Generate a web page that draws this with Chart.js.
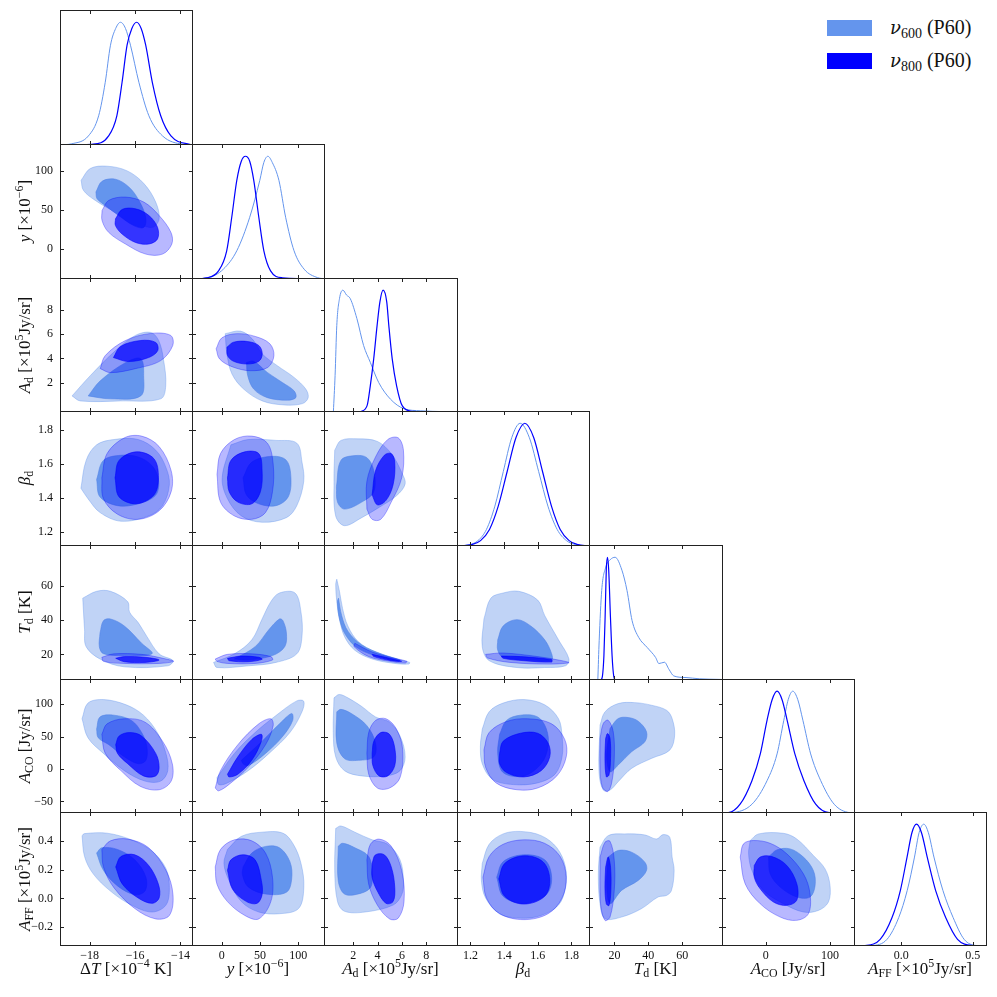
<!DOCTYPE html>
<html>
<head>
<meta charset="utf-8">
<script src="https://cdn.jsdelivr.net/npm/chart.js@4.4.1/dist/chart.umd.min.js"></script>
<style>
  body { margin: 0; background: #fff; width: 997px; height: 997px; position: relative; overflow: hidden;
         font-family: 'Liberation Serif', 'DejaVu Serif', serif; color: #111; }
  canvas { position: absolute; }
  .xt { position: absolute; top: 959px; transform: translateX(-50%); font-size: 17px; line-height: 20px; white-space: nowrap; }
  .yt { position: absolute; left: 25px; transform: translate(-50%, -50%) rotate(-90deg); font-size: 17px; line-height: 20px; white-space: nowrap; }
  sub { font-size: 70%; vertical-align: -0.25em; line-height: 0; }
  sup { font-size: 70%; vertical-align: 0.55em; line-height: 0; }
  .lg { position: absolute; left: 827px; width: 45px; height: 16px; }
  .lg span { position: absolute; left: 63px; top: -6px; font-size: 20px; line-height: 26px; white-space: nowrap; }
  .nu { font-family: 'DejaVu Serif', serif; font-size: 18px; }
</style>
</head>
<body>
<script>
// ---- axes: parameter limits and ticks (order: dT, y, Ad, beta, Td, ACO, AFF) ----
const axisMin = [-19.3, -39, -0.4, 1.12, 5, -68, -0.33];
const axisMax = [-13.45, 135, 10.6, 1.91, 84, 139, 0.60];
const xTicks = [[-18, -16, -14], [0, 50, 100], [2, 4, 6, 8], [1.2, 1.4, 1.6, 1.8], [20, 40, 60], [0, 100], [0.0, 0.5]];
const yTicks = [[], [0, 50, 100], [2, 4, 6, 8], [1.2, 1.4, 1.6, 1.8], [20, 40, 60], [-50, 0, 50, 100], [-0.2, 0.0, 0.2, 0.4]];
const tickDecimals = [0, 0, 0, 1, 0, 0, 1];

const xTitles = [
  'Δ<i>T</i> [×10<sup>−4</sup> K]', '<i>y</i> [×10<sup>−6</sup>]', '<i>A</i><sub>d</sub> [×10<sup>5</sup>Jy/sr]',
  '<i>β</i><sub>d</sub>', '<i>T</i><sub>d</sub> [K]', '<i>A</i><sub>CO</sub> [Jy/sr]', '<i>A</i><sub>FF</sub> [×10<sup>5</sup>Jy/sr]'
];
const seriesNames = ['<i class="nu">ν</i><sub>600</sub> (P60)', '<i class="nu">ν</i><sub>800</sub> (P60)'];

// ---- 1D marginals, flat [x, p, x, p, ...] ----
const m600_dT = [-19.3,0.001, -18.78,0.01, -18.05,0.074, -17.6,0.238, -17.31,0.511, -17.08,0.813, -16.85,0.95, -16.64,1.0, -16.42,0.95, -16.2,0.813, -15.83,0.511, -15.39,0.238, -14.79,0.074, -13.9,0.006, -13.45,0.001];
const m800_dT = [-19.3,0, -17.9,0.006, -17.16,0.074, -16.8,0.238, -16.57,0.511, -16.35,0.813, -16.14,0.95, -15.93,1.0, -15.73,0.95, -15.53,0.813, -15.24,0.511, -14.87,0.238, -14.42,0.074, -13.6,0.006, -13.45,0.003];
const m600_y = [-39,0, -17.7,0.011, 2.0,0.08, 19.6,0.23, 36.5,0.503, 49.7,0.804, 55,0.95, 60.3,1.0, 66,0.95, 74.7,0.804, 83.5,0.503, 94.5,0.23, 107.7,0.08, 125.3,0.011, 135,0.002];
const m800_y = [-39,0.001, -19.8,0.01, -4.3,0.066, 6.4,0.23, 13.0,0.503, 19.6,0.804, 25.5,0.96, 30.9,1.0, 36.5,0.96, 41.8,0.804, 48.4,0.503, 55,0.23, 63.8,0.066, 79.3,0.01, 135,0];
const m600_Ad = [0.37,0, 0.51,0.298, 0.65,0.711, 0.87,0.93, 1.15,1.0, 1.45,0.96, 1.75,0.932, 2.3,0.767, 2.85,0.546, 3.4,0.408, 4.09,0.242, 5.06,0.105, 6.16,0.027, 7.54,0.01, 9.44,0.003, 10.6,0.001];
const m800_Ad = [2.57,0, 3.13,0.05, 3.4,0.215, 3.68,0.436, 3.96,0.711, 4.19,0.904, 4.45,1.0, 4.75,0.904, 4.92,0.711, 5.2,0.436, 5.56,0.215, 6.03,0.05, 6.86,0.005, 8,0];
const m600_beta = [1.12,0.001, 1.145,0.002, 1.195,0.011, 1.245,0.044, 1.295,0.135, 1.345,0.325, 1.395,0.607, 1.445,0.882, 1.495,1.0, 1.55,0.882, 1.605,0.607, 1.66,0.325, 1.715,0.135, 1.77,0.044, 1.825,0.011, 1.88,0.002, 1.91,0.001];
const m800_beta = [1.12,0.001, 1.155,0.002, 1.208,0.011, 1.26,0.044, 1.313,0.135, 1.365,0.325, 1.418,0.607, 1.47,0.882, 1.523,1.0, 1.576,0.882, 1.628,0.607, 1.681,0.325, 1.733,0.135, 1.786,0.044, 1.838,0.011, 1.89,0.002, 1.91,0.001];
const m600_Td = [10.2,0, 11,0.32, 12.5,0.73, 14.9,0.92, 17.5,0.98, 20.4,1.0, 24.4,0.895, 27.4,0.73, 30.4,0.484, 34.3,0.347, 39.3,0.265, 44.3,0.183, 46.2,0.134, 49.5,0.145, 52.1,0.088, 55,0.033, 62.2,0.02, 70,0.01, 81.6,0.005, 84,0.004];
const m800_Td = [12.0,0, 12.9,0.03, 13.8,0.2, 14.5,0.511, 15.2,0.9, 15.9,1.0, 16.6,0.9, 17.65,0.511, 18.6,0.2, 19.6,0.03, 20.6,0];
const m600_ACO = [-68,0, -52.8,0.003, -21.4,0.072, 2.1,0.265, 17.7,0.485, 28.2,0.761, 35,0.93, 42.2,1.0, 50,0.93, 57.9,0.761, 70,0.485, 85.7,0.265, 106.6,0.072, 130.1,0.003, 139,0];
const m800_ACO = [-68,0.001, -58.1,0.003, -39.8,0.072, -21.4,0.265, -8.4,0.485, 2.1,0.761, 10,0.93, 17.7,1.0, 25.5,0.93, 33.4,0.761, 45.4,0.485, 59.5,0.265, 77.8,0.072, 98.7,0.003, 139,0];
const m600_AFF = [-0.33,0, -0.204,0.004, -0.099,0.055, -0.017,0.234, 0.042,0.455, 0.093,0.73, 0.125,0.93, 0.158,1.0, 0.19,0.93, 0.229,0.73, 0.292,0.455, 0.363,0.234, 0.44,0.055, 0.523,0.004, 0.6,0];
const m800_AFF = [-0.33,0, -0.253,0.004, -0.147,0.055, -0.064,0.234, -0.006,0.455, 0.041,0.73, 0.075,0.93, 0.107,1.0, 0.142,0.93, 0.182,0.73, 0.241,0.455, 0.311,0.234, 0.394,0.055, 0.5,0.004, 0.6,0];

// ---- 2D contours, each panel: [600 outer, 600 inner, 800 outer, 800 inner], flat [x, y, ...] ----
const dT_y = [
  [-18.37,88.3, -17.97,103.4, -17.23,106.4, -16.34,100.3, -15.61,84.0, -15.09,60.1, -14.94,38.5, -15.24,27.6, -15.98,34.1, -16.86,47.1, -17.75,62.3, -18.27,75.3],
  [-17.72,73.1, -17.45,87.0, -16.86,89.6, -16.27,79.5, -15.83,62.3, -15.53,40.6, -15.61,27.6, -16.05,29.8, -16.72,42.8, -17.31,55.8, -17.67,64.5],
  [-17.45,49.3, -17.16,62.3, -16.42,66.6, -15.61,60.1, -14.94,42.8, -14.42,21.1, -14.38,6.1, -14.79,-6.9, -15.53,-6.9, -16.42,6.1, -17.16,21.1, -17.45,36.3],
  [-16.86,38.5, -16.57,50.6, -15.98,51.5, -15.39,42.8, -15.01,27.6, -15.01,12.6, -15.39,6.1, -15.98,8.1, -16.57,19.0, -16.86,29.8]
];
const dT_Ad = [
  [-18.77,0.92, -17.97,2.58, -16.86,4.64, -15.98,5.89, -15.31,6.13, -14.96,5.47, -14.74,3.82, -14.65,1.75, -14.87,0.68, -16.64,0.51, -18.41,0.51],
  [-18.06,0.92, -17.53,2.16, -16.42,3.65, -15.75,3.98, -15.62,2.58, -15.75,0.92, -17.08,0.68],
  [-17.53,3.16, -17.31,4.23, -16.42,5.47, -15.31,6.05, -14.43,5.89, -14.34,5.06, -14.87,3.82, -15.98,3.16, -17.08,2.83],
  [-16.95,4.07, -16.64,4.98, -15.75,5.47, -15.09,5.31, -15.0,4.64, -15.4,4.07, -16.29,3.74]
];
const y_Ad = [
  [4.5,6.03, 24.3,6.24, 39.7,5.61, 52.9,4.37, 72.6,3.40, 94.5,2.44, 109.9,1.48, 113.0,0.78, 105.6,0.29, 81.3,0.18, 52.9,0.51, 28.6,1.48, 13.3,2.72, 6.7,4.37],
  [32.2,3.68, 41.8,3.76, 59.5,2.85, 79.2,2.02, 94.5,1.34, 96.8,0.78, 85.8,0.57, 59.5,0.78, 41.8,1.48, 33.9,2.58],
  [-7.4,4.79, 0.1,5.69, 19.9,6.03, 44.0,5.80, 62.9,5.20, 68.2,4.23, 60.2,3.26, 37.4,2.99, 13.3,3.32, -3.0,3.96],
  [6.7,4.92, 15.4,5.33, 33.1,5.39, 48.4,5.06, 52.9,4.37, 48.4,3.76, 33.1,3.54, 15.4,3.76, 7.5,4.23]
];
const dT_beta = [
  [-18.38,1.458, -18.15,1.621, -17.69,1.712, -16.93,1.743, -15.86,1.743, -15.09,1.681, -14.64,1.580, -14.49,1.478, -14.79,1.356, -15.40,1.296, -16.62,1.265, -17.54,1.316, -18.07,1.397],
  [-17.69,1.509, -17.39,1.621, -16.62,1.651, -15.86,1.641, -15.25,1.590, -14.97,1.509, -15.09,1.418, -15.86,1.367, -16.77,1.356, -17.54,1.407],
  [-17.46,1.519, -17.23,1.661, -16.47,1.753, -15.71,1.763, -14.94,1.702, -14.41,1.560, -14.41,1.438, -14.94,1.326, -15.86,1.276, -16.77,1.306, -17.39,1.397],
  [-16.88,1.519, -16.70,1.621, -15.94,1.671, -15.17,1.631, -14.97,1.519, -15.17,1.418, -15.94,1.367, -16.70,1.407]
];
const y_beta = [
  [11.9,1.712, 34.5,1.743, 70.9,1.738, 98.1,1.722, 104.9,1.611, 107.2,1.499, 98.1,1.356, 84.5,1.286, 52.7,1.259, 25.6,1.296, 7.4,1.397, 0.5,1.519],
  [27.8,1.519, 39.2,1.611, 66.3,1.645, 84.5,1.621, 90.4,1.519, 86.8,1.407, 70.9,1.356, 48.3,1.367, 32.3,1.418],
  [-6.3,1.539, -1.7,1.661, 16.5,1.743, 39.2,1.763, 59.6,1.722, 67.2,1.600, 66.3,1.438, 57.2,1.316, 39.2,1.276, 16.5,1.296, -1.7,1.377],
  [7.4,1.519, 11.9,1.621, 30.1,1.671, 48.3,1.661, 52.7,1.560, 50.5,1.438, 39.2,1.367, 21.0,1.377, 9.6,1.438]
];
const Ad_beta = [
  [0.48,1.681, 0.99,1.738, 2.41,1.747, 3.98,1.732, 5.12,1.661, 5.98,1.550, 6.26,1.483, 5.55,1.414, 4.12,1.346, 2.70,1.286, 1.28,1.239, 0.56,1.296, 0.42,1.499],
  [0.62,1.468, 0.99,1.621, 2.13,1.649, 3.12,1.637, 3.69,1.560, 3.69,1.438, 2.70,1.377, 1.28,1.336, 0.71,1.377],
  [3.12,1.336, 3.12,1.499, 3.83,1.641, 4.83,1.743, 5.69,1.753, 6.12,1.681, 5.98,1.519, 5.12,1.377, 4.26,1.276, 3.55,1.276],
  [3.55,1.418, 3.83,1.560, 4.55,1.651, 5.12,1.661, 5.41,1.611, 5.27,1.478, 4.69,1.387, 3.98,1.361]
];
const dT_Td = [
  [-18.30,52.9, -17.69,56.9, -17.08,56.9, -16.32,50.8, -16.24,44.7, -15.86,38.6, -15.48,30.5, -14.94,20.3, -14.33,16.3, -14.56,13.3, -16.47,12.7, -17.54,17.3, -18.15,24.5, -18.22,34.6],
  [-17.54,32.5, -17.39,39.7, -17.08,40.7, -16.47,36.6, -15.71,26.5, -15.25,20.4, -16.47,19.3, -17.39,20.4, -17.57,24.5],
  [-17.46,18.3, -16.93,20.3, -15.71,20.0, -14.64,17.3, -14.30,15.9, -14.94,14.7, -16.47,14.7, -17.39,15.9],
  [-16.85,17.7, -16.47,18.7, -15.56,18.3, -14.94,16.7, -15.56,15.3, -16.47,15.7]
];
const y_Td = [
  [-10.8,15.3, 16.5,20.3, 39.2,28.5, 52.7,40.7, 64.1,50.8, 75.4,55.9, 95.8,55.9, 103.6,44.7, 104.9,30.5, 98.1,20.3, 70.9,15.3, 34.5,13.3, -6.3,12.3],
  [16.5,17.3, 43.6,24.5, 61.8,34.6, 75.4,40.7, 80.0,39.7, 84.5,32.5, 82.3,24.5, 66.3,19.3, 34.5,16.7],
  [-8.6,17.3, 7.4,20.0, 39.2,20.3, 64.1,18.7, 66.3,16.7, 43.6,14.7, 7.4,14.7, -6.3,15.9],
  [7.4,17.7, 25.6,19.0, 48.3,18.3, 52.7,17.1, 34.5,15.7, 9.6,16.3]
];
const Ad_Td = [
  [0.65,64.0, 0.87,56.9, 1.13,46.7, 1.56,36.6, 2.41,27.5, 3.83,21.4, 5.55,17.3, 6.63,15.3, 6.55,14.3, 5.41,14.7, 3.55,17.3, 2.13,22.4, 1.28,30.5, 0.87,40.7, 0.65,50.8, 0.56,61.0],
  [0.79,52.9, 1.05,42.7, 1.56,33.6, 2.70,25.5, 4.41,20.0, 5.84,16.7, 5.69,15.9, 4.26,18.3, 2.41,23.4, 1.36,31.5, 0.87,40.7, 0.70,50.8],
  [2.13,26.5, 3.55,21.4, 5.27,17.9, 6.40,15.9, 6.26,14.9, 4.98,15.9, 3.27,18.7, 2.07,24.5],
  [3.55,20.0, 5.27,17.3, 5.98,15.9, 5.12,16.3, 3.69,18.7]
];
const beta_Td = [
  [1.280,40.7, 1.321,52.9, 1.394,55.9, 1.486,56.9, 1.599,51.8, 1.641,42.7, 1.723,28.5, 1.785,17.3, 1.764,13.3, 1.641,12.3, 1.476,12.3, 1.312,16.3, 1.270,24.5],
  [1.362,28.5, 1.394,36.6, 1.476,40.3, 1.558,36.6, 1.641,28.5, 1.682,20.4, 1.682,16.7, 1.558,16.7, 1.394,18.3, 1.362,22.4],
  [1.290,20.0, 1.394,20.8, 1.599,18.7, 1.744,16.3, 1.785,15.1, 1.661,14.3, 1.434,15.3, 1.301,17.9],
  [1.383,19.0, 1.496,18.7, 1.682,16.9, 1.682,15.5, 1.517,16.3, 1.394,17.7]
];
const dT_ACO = [
  [-18.33,77.6, -18.07,101.8, -17.39,107.2, -16.39,99.1, -15.63,83.1, -15.02,56.3, -14.64,24.1, -14.56,-2.6, -14.87,-18.7, -15.56,-18.7, -16.47,-2.6, -17.39,24.1, -18.07,48.2],
  [-17.69,61.6, -17.54,80.4, -16.93,83.1, -16.16,75.0, -15.71,56.3, -15.48,34.9, -15.52,13.4, -15.86,8.1, -16.47,18.8, -17.15,37.5, -17.62,48.2],
  [-17.46,53.5, -17.23,69.7, -16.47,77.6, -15.56,72.3, -14.79,42.9, -14.36,8.1, -14.41,-18.7, -14.94,-32.1, -15.78,-26.6, -16.62,-2.5, -17.31,24.1],
  [-16.85,37.5, -16.70,50.9, -16.24,56.3, -15.71,50.9, -15.09,24.1, -14.94,2.3, -15.09,-10.7, -15.63,-10.7, -16.32,8.1, -16.77,24.1]
];
const y_ACO = [
  [-6.3,-13.4, 16.5,24.1, 43.6,56.3, 70.9,82.6, 98.1,105.2, 107.2,104.6, 104.9,88.4, 89.1,56.3, 61.8,24.1, 34.5,-2.6, 7.4,-21.5, -4.0,-24.1],
  [25.5,13.4, 52.7,42.9, 75.4,69.7, 91.4,85.7, 92.7,75.0, 80.0,50.9, 57.2,24.1, 34.5,5.3, 27.8,8.1],
  [-8.6,-29.4, -1.7,-2.6, 21.0,37.5, 48.3,69.7, 64.1,77.6, 67.2,66.9, 57.2,37.5, 34.5,2.6, 11.9,-21.5, -4.0,-33.8],
  [7.4,-8.1, 21.0,18.8, 39.2,45.6, 51.8,53.5, 51.8,43.0, 39.2,13.4, 21.0,-8.1, 9.6,-12.3]
];
const Ad_ACO = [
  [0.42,109.9, 0.85,115.1, 1.56,109.9, 2.70,96.5, 3.83,80.4, 4.98,72.3, 5.84,50.9, 6.26,18.8, 5.84,-2.6, 4.69,-10.7, 2.70,-10.7, 1.28,-2.6, 0.56,18.8, 0.36,56.6],
  [0.65,88.4, 0.99,92.1, 1.84,85.7, 3.12,66.9, 3.83,40.1, 3.69,18.8, 2.41,13.4, 1.28,16.0, 0.65,40.1],
  [3.12,24.1, 3.27,56.3, 3.83,75.0, 4.69,77.6, 5.55,61.6, 6.06,29.6, 5.84,-13.4, 4.98,-29.4, 3.98,-29.4, 3.27,-8.1],
  [3.55,24.1, 3.69,42.9, 4.26,56.3, 4.98,53.5, 5.41,32.2, 5.41,5.3, 4.83,-10.7, 4.12,-10.7, 3.61,5.3]
];
const beta_ACO = [
  [1.270,61.6, 1.311,88.4, 1.394,101.8, 1.517,107.2, 1.641,99.1, 1.723,77.6, 1.744,50.9, 1.744,18.8, 1.702,-8.1, 1.599,-21.5, 1.455,-24.1, 1.331,-16.0, 1.270,8.1, 1.259,34.9],
  [1.373,53.5, 1.414,75.0, 1.497,83.1, 1.599,80.4, 1.651,61.6, 1.661,34.9, 1.620,8.1, 1.517,-10.7, 1.394,-5.5, 1.362,24.1],
  [1.280,29.6, 1.311,56.3, 1.414,73.3, 1.538,77.6, 1.682,69.7, 1.760,45.6, 1.769,18.8, 1.713,-10.7, 1.599,-29.4, 1.476,-32.1, 1.352,-21.5, 1.290,2.6],
  [1.373,24.1, 1.394,42.9, 1.497,55.2, 1.599,55.2, 1.661,40.1, 1.671,18.8, 1.620,-2.6, 1.517,-12.3, 1.414,-5.5, 1.373,8.1]
];
const Td_ACO = [
  [11.5,67.7, 14.4,88.2, 22.2,101.0, 32.0,102.5, 41.8,98.5, 50.7,90.7, 54.0,77.9, 55.5,52.3, 52.6,29.1, 41.8,16.3, 30.1,0.9, 22.2,-19.6, 17.4,-32.5, 13.4,-32.5, 10.9,-4.2],
  [17.4,62.6, 22.2,77.9, 28.1,79.5, 34.0,73.8, 38.9,57.4, 37.9,42.0, 30.1,26.6, 22.2,6.1, 17.4,-4.2, 15.4,21.5],
  [11.5,47.1, 13.4,70.2, 16.3,75.3, 19.3,57.4, 19.9,16.3, 18.3,-22.3, 15.9,-35.0, 12.8,-27.4, 11.5,0.9],
  [14.8,47.1, 15.9,54.8, 17.4,47.1, 17.7,16.3, 16.8,-9.3, 15.2,-12.0, 14.4,16.3]
];
const dT_AFF = [
  [-18.33,0.436, -18.22,0.450, -17.23,0.453, -16.16,0.407, -15.25,0.328, -14.64,0.208, -14.49,0.075, -14.64,-0.046, -15.25,-0.094, -16.16,-0.046, -17.08,0.051, -17.84,0.171, -18.22,0.291],
  [-17.69,0.315, -17.46,0.352, -16.77,0.340, -16.01,0.268, -15.52,0.147, -15.56,0.051, -16.01,0.026, -16.77,0.087, -17.39,0.195],
  [-17.46,0.340, -17.08,0.400, -16.32,0.412, -15.40,0.352, -14.64,0.195, -14.33,0.026, -14.49,-0.118, -15.09,-0.142, -16.01,-0.070, -16.93,0.075, -17.39,0.219],
  [-16.85,0.219, -16.62,0.291, -16.01,0.303, -15.40,0.229, -14.97,0.098, -14.94,0.003, -15.25,-0.034, -15.86,0.003, -16.55,0.098]
];
const y_AFF = [
  [7.4,0.340, 25.6,0.431, 52.7,0.460, 80.0,0.453, 93.6,0.376, 103.6,0.243, 107.3,0.075, 100.4,-0.070, 75.4,-0.106, 48.3,-0.094, 25.6,-0.022, 9.6,0.123, 2.8,0.243],
  [27.8,0.219, 39.2,0.315, 57.2,0.361, 75.4,0.352, 89.1,0.255, 91.4,0.135, 84.5,0.043, 57.2,0.031, 34.5,0.080, 26.9,0.166],
  [-8.6,0.219, -1.7,0.340, 16.5,0.407, 39.2,0.400, 57.2,0.315, 66.3,0.147, 64.1,-0.022, 48.3,-0.142, 30.1,-0.118, 7.4,-0.022, -6.3,0.098],
  [7.4,0.195, 11.9,0.268, 27.8,0.303, 43.6,0.268, 51.8,0.123, 52.7,0.026, 46.1,-0.034, 32.3,-0.022, 14.1,0.063]
];
const Ad_AFF = [
  [0.56,0.486, 0.99,0.503, 2.13,0.460, 3.55,0.407, 4.83,0.376, 5.84,0.268, 6.12,0.123, 5.98,0.026, 5.27,-0.046, 2.98,-0.094, 1.28,-0.089, 0.71,-0.022, 0.48,0.195],
  [0.77,0.363, 1.13,0.383, 2.13,0.352, 3.27,0.291, 3.55,0.171, 3.41,0.075, 2.41,0.031, 1.28,0.031, 0.77,0.123],
  [3.12,0.268, 3.41,0.376, 4.12,0.412, 5.12,0.363, 5.98,0.194, 6.17,-0.022, 5.69,-0.137, 4.98,-0.142, 3.98,-0.046, 3.27,0.098],
  [3.55,0.243, 3.83,0.303, 4.55,0.303, 5.12,0.219, 5.41,0.075, 5.27,-0.022, 4.69,-0.034, 3.98,0.051, 3.55,0.147]
];
const beta_AFF = [
  [1.270,0.243, 1.311,0.376, 1.394,0.448, 1.497,0.465, 1.620,0.436, 1.713,0.352, 1.764,0.219, 1.764,0.075, 1.723,-0.046, 1.620,-0.118, 1.497,-0.137, 1.373,-0.106, 1.290,0.003, 1.265,0.123],
  [1.356,0.147, 1.394,0.255, 1.517,0.303, 1.641,0.268, 1.682,0.147, 1.651,0.028, 1.517,-0.034, 1.394,0.015],
  [1.274,0.147, 1.311,0.291, 1.394,0.376, 1.517,0.407, 1.640,0.383, 1.733,0.291, 1.769,0.147, 1.744,0.003, 1.661,-0.106, 1.517,-0.147, 1.373,-0.106, 1.295,0.003],
  [1.368,0.135, 1.403,0.243, 1.517,0.296, 1.630,0.255, 1.671,0.135, 1.641,0.015, 1.517,-0.039, 1.403,0.015]
];
const Td_AFF = [
  [11.5,0.356, 16.3,0.436, 26.1,0.448, 37.9,0.441, 44.8,0.413, 48.7,0.443, 52.6,0.425, 54.0,0.287, 55.2,0.194, 53.6,0.055, 50.7,0.021, 45.7,0.010, 35.9,-0.071, 24.2,-0.129, 14.4,-0.140, 11.5,-0.037, 10.5,0.171],
  [16.3,0.287, 22.2,0.333, 30.1,0.321, 37.9,0.252, 38.9,0.194, 34.0,0.125, 24.2,0.056, 17.4,-0.036, 15.4,0.102],
  [11.5,0.287, 14.4,0.390, 17.4,0.397, 19.9,0.264, 19.9,0.056, 17.4,-0.129, 14.4,-0.152, 11.8,-0.036],
  [14.8,0.217, 16.3,0.287, 17.7,0.217, 17.9,0.056, 16.8,-0.049, 15.2,-0.037, 14.4,0.079]
];
const ACO_AFF = [
  [-24.1,0.402, -11.1,0.448, 27.6,0.452, 48.3,0.413, 74.2,0.298, 92.4,0.205, 100.1,0.090, 97.6,-0.025, 82.1,-0.083, 58.7,-0.094, 27.6,-0.036, -3.4,0.056, -21.4,0.194, -26.6,0.310],
  [4.4,0.287, 17.3,0.337, 38.0,0.344, 58.7,0.287, 74.2,0.194, 76.9,0.090, 69.0,0.010, 48.3,0.010, 22.5,0.079, 6.9,0.171],
  [-39.6,0.287, -34.5,0.379, -18.9,0.402, 6.9,0.383, 32.8,0.310, 58.7,0.171, 69.0,0.033, 66.5,-0.106, 48.3,-0.152, 22.5,-0.129, -8.6,-0.037, -31.9,0.101],
  [-17.8,0.229, -8.6,0.287, 9.6,0.291, 32.8,0.229, 48.3,0.103, 48.3,-0.013, 32.8,-0.048, 12.1,-0.025, -8.6,0.067, -17.8,0.148]
];

// lookup tables built from the arrays above
const marg600 = [m600_dT, m600_y, m600_Ad, m600_beta, m600_Td, m600_ACO, m600_AFF];
const marg800 = [m800_dT, m800_y, m800_Ad, m800_beta, m800_Td, m800_ACO, m800_AFF];
const contours = [
  [],
  [dT_y],
  [dT_Ad, y_Ad],
  [dT_beta, y_beta, Ad_beta],
  [dT_Td, y_Td, Ad_Td, beta_Td],
  [dT_ACO, y_ACO, Ad_ACO, beta_ACO, Td_ACO],
  [dT_AFF, y_AFF, Ad_AFF, beta_AFF, Td_AFF, ACO_AFF]
];

// ---- layout ----
const edgesX = [60, 192, 324, 457, 589, 722, 854, 986];
const edgesY = [10, 144, 278, 411, 545, 679, 812, 945];
const LIGHT = '#6495ed', DARK = '#0000ff';
const contourStyle = [
  { bg: 'rgb(192,211,246)', bd: 'rgba(100,149,237,0.55)', order: 4 },
  { bg: 'rgb(100,149,237)', bd: 'rgba(80,130,230,0.8)', order: 3 },
  { bg: 'rgba(0,0,255,0.28)', bd: 'rgba(0,0,255,0.45)', order: 2 },
  { bg: 'rgba(0,0,255,0.72)', bd: 'rgba(0,0,255,0.8)', order: 1 }
];

Chart.defaults.font.family = "'Liberation Serif', 'DejaVu Serif', serif";
Chart.defaults.color = '#111';

function pts(a, close) {
  const out = [];
  for (let i = 0; i < a.length; i += 2) out.push({ x: a[i], y: a[i + 1] });
  if (close) out.push({ x: a[0], y: a[1] });
  return out;
}
function fmt(p, v) {
  return v.toFixed(tickDecimals[p]).replace('-', '\u2212');
}
function noPad(s) {
  s.paddingTop = 0; s.paddingBottom = 0; s.paddingLeft = 0; s.paddingRight = 0;
}

// frame with inward ticks on every side of a panel
const panelFrame = {
  id: 'panelFrame',
  afterDraw(chart, args, opts) {
    const { ctx, chartArea: a, scales } = chart;
    const L = 4;
    ctx.save();
    ctx.strokeStyle = '#222';
    ctx.lineWidth = 1;
    ctx.strokeRect(a.left + 0.5, a.top + 0.5, a.right - a.left - 1, a.bottom - a.top - 1);
    ctx.beginPath();
    (opts.xt || []).forEach(v => {
      const px = Math.round(scales.x.getPixelForValue(v)) + 0.5;
      ctx.moveTo(px, a.bottom); ctx.lineTo(px, a.bottom - L);
      ctx.moveTo(px, a.top); ctx.lineTo(px, a.top + L);
    });
    (opts.yt || []).forEach(v => {
      const py = Math.round(scales.y.getPixelForValue(v)) + 0.5;
      ctx.moveTo(a.left, py); ctx.lineTo(a.left + L, py);
      ctx.moveTo(a.right, py); ctx.lineTo(a.right - L, py);
    });
    ctx.stroke();
    ctx.restore();
  }
};

function makePanel(r, c) {
  const diag = r === c;
  const yAxisW = (c === 0 && !diag) ? edgesX[0] : 0;
  const xAxisH = r === 6 ? 24 : 0;
  const w = edgesX[c + 1] - edgesX[c] + 1;
  const h = edgesY[r + 1] - edgesY[r] + 1;
  const cv = document.createElement('canvas');
  cv.width = w + yAxisW;
  cv.height = h + xAxisH;
  cv.style.left = (edgesX[c] - yAxisW) + 'px';
  cv.style.top = edgesY[r] + 'px';
  document.body.appendChild(cv);

  let datasets;
  if (diag) {
    datasets = [
      { data: pts(marg600[c]), borderColor: LIGHT, borderWidth: 1, order: 2 },
      { data: pts(marg800[c]), borderColor: DARK, borderWidth: 1.2, order: 1 }
    ].map(d => Object.assign(d, { fill: false, pointRadius: 0, cubicInterpolationMode: 'monotone' }));
  } else {
    datasets = contours[r][c].map((poly, k) => ({
      data: pts(poly, true),
      backgroundColor: contourStyle[k].bg,
      borderColor: contourStyle[k].bd,
      borderWidth: 0.7,
      fill: 'shape',
      tension: 0.35,
      pointRadius: 0,
      order: contourStyle[k].order
    }));
  }
  const tickFont = { family: "'Liberation Serif', 'DejaVu Serif', serif", size: 12 };
  const yVals = diag ? [] : yTicks[r];

  new Chart(cv, {
    type: 'line',
    data: { datasets },
    options: {
      responsive: false,
      animation: false,
      devicePixelRatio: 1,
      events: [],
      layout: { padding: 0, autoPadding: false },
      plugins: { legend: { display: false }, tooltip: { enabled: false },
                 panelFrame: { xt: xTicks[c], yt: yVals } },
      scales: {
        x: {
          type: 'linear', min: axisMin[c], max: axisMax[c],
          display: r === 6,
          afterFit: s => { s.height = xAxisH; noPad(s); },
          afterBuildTicks: s => { s.ticks = xTicks[c].map(v => ({ value: v })); },
          grid: { display: false, drawTicks: false },
          border: { display: false },
          ticks: { padding: 3, maxRotation: 0, autoSkip: false, font: tickFont, callback: v => fmt(c, v) }
        },
        y: {
          type: 'linear', min: diag ? 0 : axisMin[r], max: diag ? 1.1 : axisMax[r],
          display: yAxisW > 0,
          afterFit: s => { s.width = yAxisW; noPad(s); },
          afterBuildTicks: s => { s.ticks = yVals.map(v => ({ value: v })); },
          grid: { display: false, drawTicks: false },
          border: { display: false },
          ticks: { padding: 7, autoSkip: false, font: tickFont, callback: v => fmt(r, v) }
        }
      }
    },
    plugins: [panelFrame]
  });
}

for (let r = 0; r < 7; r++) {
  for (let c = 0; c <= r; c++) makePanel(r, c);
}

// axis titles
for (let i = 0; i < 7; i++) {
  const xt = document.createElement('div');
  xt.className = 'xt';
  xt.innerHTML = xTitles[i];
  xt.style.left = ((edgesX[i] + edgesX[i + 1]) / 2) + 'px';
  document.body.appendChild(xt);
  if (i > 0) {
    const yt = document.createElement('div');
    yt.className = 'yt';
    yt.innerHTML = xTitles[i];
    yt.style.top = ((edgesY[i] + edgesY[i + 1]) / 2) + 'px';
    document.body.appendChild(yt);
  }
}

// legend
[LIGHT, DARK].forEach((col, i) => {
  const lg = document.createElement('div');
  lg.className = 'lg';
  lg.style.top = (20 + i * 33) + 'px';
  lg.style.background = col;
  lg.innerHTML = '<span>' + seriesNames[i] + '</span>';
  document.body.appendChild(lg);
});
</script>
</body>
</html>
